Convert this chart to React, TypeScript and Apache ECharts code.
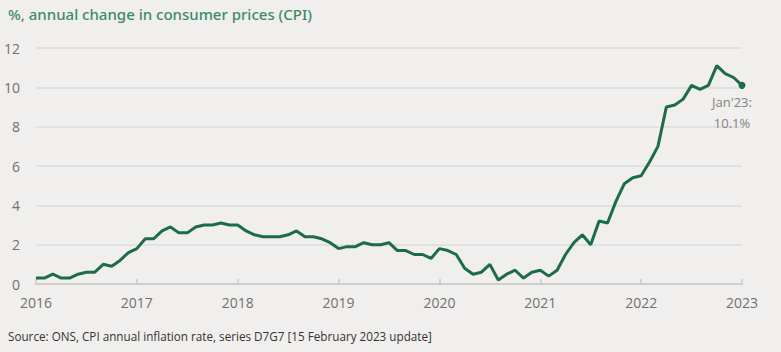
import React, { useEffect, useRef } from "react";
import * as echarts from "echarts";

const years = [2016, 2017, 2018, 2019, 2020, 2021, 2022, 2023];
const cpi2016 = [0.3, 0.3, 0.5, 0.3, 0.3, 0.5, 0.6, 0.6, 1.0, 0.9, 1.2, 1.6];
const cpi2017 = [1.8, 2.3, 2.3, 2.7, 2.9, 2.6, 2.6, 2.9, 3.0, 3.0, 3.1, 3.0];
const cpi2018 = [3.0, 2.7, 2.5, 2.4, 2.4, 2.4, 2.5, 2.7, 2.4, 2.4, 2.3, 2.1];
const cpi2019 = [1.8, 1.9, 1.9, 2.1, 2.0, 2.0, 2.1, 1.7, 1.7, 1.5, 1.5, 1.3];
const cpi2020 = [1.8, 1.7, 1.5, 0.8, 0.5, 0.6, 1.0, 0.2, 0.5, 0.7, 0.3, 0.6];
const cpi2021 = [0.7, 0.4, 0.7, 1.5, 2.1, 2.5, 2.0, 3.2, 3.1, 4.2, 5.1, 5.4];
const cpi2022 = [5.5, 6.2, 7.0, 9.0, 9.1, 9.4, 10.1, 9.9, 10.1, 11.1, 10.7, 10.5];
const cpi2023 = [10.1];
const yTicks = [0, 2, 4, 6, 8, 10, 12];

const values = [
  ...cpi2016, ...cpi2017, ...cpi2018, ...cpi2019,
  ...cpi2020, ...cpi2021, ...cpi2022, ...cpi2023,
];
const months = values.map((_, i) => {
  const y = years[0] + Math.floor(i / 12);
  const m = (i % 12) + 1;
  return `${y}-${String(m).padStart(2, "0")}`;
});

export default function App() {
  const ref = useRef<HTMLDivElement>(null);
  useEffect(() => {
    if (!ref.current) return;
    const chart = echarts.init(ref.current, null, { renderer: "svg" });
    const last = values.length - 1;
    chart.setOption({
      animation: false,
      backgroundColor: "#f0efed",
      textStyle: { fontFamily: "Open Sans" },
      graphic: [
        {
          type: "text",
          left: 8,
          top: 6,
          style: {
            text: "%, annual change in consumer prices (CPI)",
            fill: "#3d8a68",
            font: "500 15px 'Noto Sans'",
          },
        },
        {
          type: "text",
          left: 8,
          top: 330,
          style: {
            text: "Source: ONS, CPI annual inflation rate, series D7G7 [15 February 2023 update]",
            fill: "#333333",
            font: "11.7px 'Open Sans'",
          },
        },
      ],
      grid: { left: 36, right: 39, top: 48, bottom: 68, containLabel: false },
      xAxis: {
        type: "category",
        data: months,
        boundaryGap: false,
        axisLine: { lineStyle: { color: "#c8c8c8", width: 1.5 } },
        axisTick: {
          interval: 11,
          length: 5,
          inside: true,
          lineStyle: { color: "#c8c8c8", width: 1.5 },
        },
        axisLabel: {
          interval: 11,
          color: "#707070",
          fontSize: 14,
          margin: 11,
          formatter: (v: string) => v.slice(0, 4),
        },
        splitLine: { show: false },
      },
      yAxis: {
        type: "value",
        min: yTicks[0],
        max: yTicks[yTicks.length - 1],
        interval: 2,
        axisLine: { show: false },
        axisTick: { show: false },
        axisLabel: { color: "#707070", fontSize: 14, margin: 16 },
        splitLine: { lineStyle: { color: "#dcdcdc", width: 1.5 } },
      },
      series: [
        {
          type: "line",
          data: values.map((v, i) =>
            i === last
              ? {
                  value: v,
                  symbol: "circle",
                  symbolSize: 7,
                  label: {
                    show: true,
                    position: "bottom",
                    offset: [-10, -2],
                    formatter: "Jan'23:\n10.1%",
                    color: "#808080",
                    fontSize: 13,
                    lineHeight: 21,
                    align: "center",
                  },
                }
              : v
          ),
          showSymbol: true,
          symbol: "none",
          lineStyle: { color: "#1d6b4d", width: 3 },
          itemStyle: { color: "#1d6b4d" },
        },
      ],
    });
    return () => chart.dispose();
  }, []);
  return (
    <div
      ref={ref}
      style={{ position: "absolute", left: 0, top: 0, width: 781, height: 352 }}
    />
  );
}
